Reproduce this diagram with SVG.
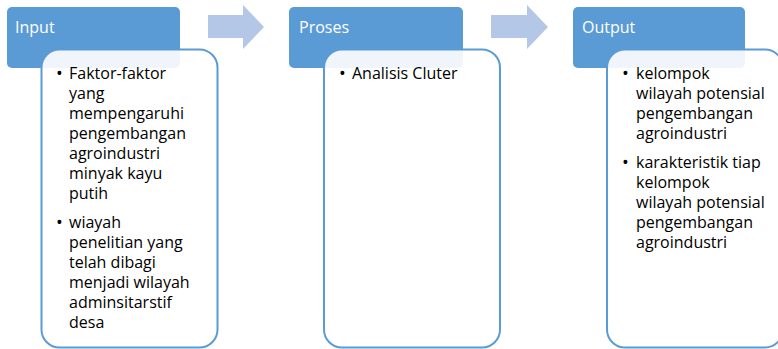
<svg xmlns="http://www.w3.org/2000/svg" width="778" height="349" viewBox="0 0 778 349">
<defs>
<style>
.hdr{fill:#5B9BD5;}
.body{fill:#FFFFFF;fill-opacity:0.9;stroke:#5B9BD5;stroke-width:2;}
.arrow{fill:#B4C7E7;}
.ht{font-family:"Open Sans","Noto Sans",sans-serif;font-size:16px;fill:#FFFFFF;}
.bt{font-family:"Open Sans","Noto Sans",sans-serif;font-size:16px;fill:#000000;}
.bl{font-family:"Open Sans","Noto Sans",sans-serif;font-size:18px;fill:#000000;}
</style>
</defs>
<rect width="778" height="349" fill="#FFFFFF"/>
<g id="connectors">
<path class="arrow" d="M208,15 H243 V5 L264,27 L243,49 V38 H208 Z"/>
<path class="arrow" d="M491,15 H527 V5 L548,27 L527,49 V38 H491 Z"/>
</g>
<g id="input">
<rect class="hdr" x="7" y="7" width="173" height="61" rx="5"/>
<text class="ht" x="15" y="33">Input</text>
<rect class="body" x="41.5" y="49.5" width="176" height="298" rx="18"/>
<g class="bl">
<text x="56" y="80">•</text>
<text x="56" y="229">•</text>
</g>
<g class="bt">
<text x="69" y="79">Faktor-faktor</text>
<text x="69" y="99">yang</text>
<text x="69" y="119">mempengaruhi</text>
<text x="69" y="139">pengembangan</text>
<text x="69" y="159">agroindustri</text>
<text x="69" y="179">minyak kayu</text>
<text x="69" y="199">putih</text>
<text x="69" y="228">wiayah</text>
<text x="69" y="248">penelitian yang</text>
<text x="69" y="268">telah dibagi</text>
<text x="69" y="288">menjadi wilayah</text>
<text x="69" y="308">adminsitarstif</text>
<text x="69" y="328">desa</text>
</g>
</g>
<g id="proses">
<rect class="hdr" x="289" y="7" width="174" height="61" rx="5"/>
<text class="ht" x="299" y="33">Proses</text>
<rect class="body" x="324" y="49.5" width="176" height="298" rx="18"/>
<g class="bl">
<text x="339" y="80">•</text>
</g>
<g class="bt">
<text x="352" y="79">Analisis Cluter</text>
</g>
</g>
<g id="output">
<rect class="hdr" x="573" y="7" width="172" height="61" rx="5"/>
<text class="ht" x="582" y="33">Output</text>
<rect class="body" x="607" y="49.5" width="176" height="298" rx="18"/>
<g class="bl">
<text x="622" y="80">•</text>
<text x="622" y="169">•</text>
</g>
<g class="bt">
<text x="636" y="79">kelompok</text>
<text x="636" y="99">wilayah potensial</text>
<text x="636" y="119">pengembangan</text>
<text x="636" y="139">agroindustri</text>
<text x="636" y="168">karakteristik tiap</text>
<text x="636" y="188">kelompok</text>
<text x="636" y="208">wilayah potensial</text>
<text x="636" y="228">pengembangan</text>
<text x="636" y="248">agroindustri</text>
</g>
</g>
</svg>
